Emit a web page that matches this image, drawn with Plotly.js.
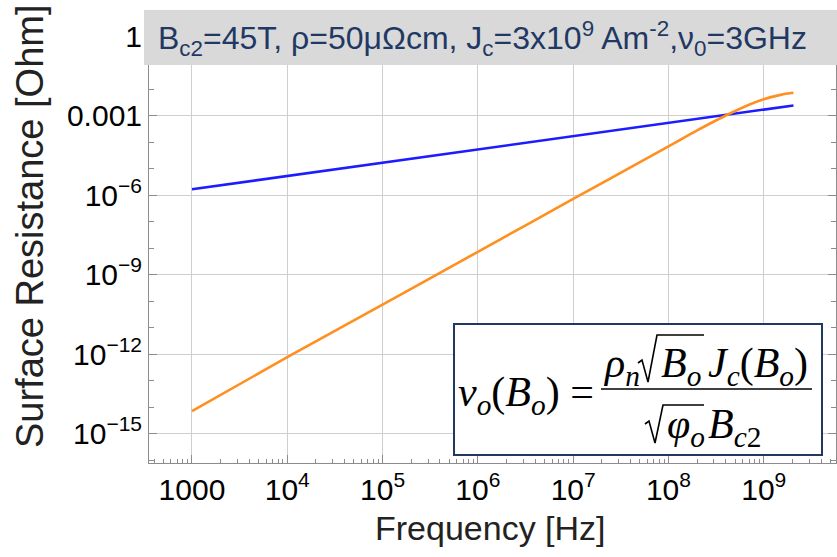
<!DOCTYPE html>
<html><head><meta charset="utf-8">
<script src="https://cdn.plot.ly/plotly-3.0.1.min.js"></script>
<style>html,body{margin:0;padding:0;background:#fff}#chart{width:837px;height:557px}</style>
</head><body><div id="chart"></div>
<script>
// ---- data ----
const freqBlue = [1e3, 1e4, 1e5, 1e6, 1e7, 1e8, 1e9, 2.05e9];
const rsBlue   = [1.65e-6, 5.2e-6, 1.65e-5, 5.2e-5, 1.65e-4, 5.3e-4, 1.65e-3, 2.4e-3];
const freqOrange = [1e3, 1e4, 1e5, 1e6, 1e7, 1e8, 2e8, 4e8, 7e8, 1e9, 1.5e9, 2.05e9];
const rsOrange   = [7.1e-15, 7.6e-13, 7.4e-11, 7.2e-9, 7.1e-7, 6.8e-5, 2.75e-4, 1.0e-3, 2.55e-3, 4.1e-3, 6.0e-3, 7.2e-3];
const xTickVals = [1e3, 1e4, 1e5, 1e6, 1e7, 1e8, 1e9];
const xTickText = ['1000', '10<sup>4</sup>', '10<sup>5</sup>', '10<sup>6</sup>', '10<sup>7</sup>', '10<sup>8</sup>', '10<sup>9</sup>'];
const yTickVals = [1, 1e-3, 1e-6, 1e-9, 1e-12, 1e-15];
const yTickText = ['1', '0.001', '10<sup>−6</sup>', '10<sup>−9</sup>', '10<sup>−12</sup>', '10<sup>−15</sup>'];
const xTitle = 'Frequency [Hz]';
const yTitle = 'Surface Resistance [Ohm]';
const headerText = 'B<sub>c2</sub>=45T, ρ=50μΩcm, J<sub>c</sub>=3x10<sup>9</sup> Am<sup>-2</sup>,ν<sub>0</sub>=3GHz';

// ---- layout helpers (pixel -> paper) ----
const L = 149, R = 836, T = 14, B = 463, W = 837, H = 557;
const px = x => (x - L) / (R - L);
const py = y => (B - y) / (B - T);
const pathOf = pts => pts.map((p, i) => (i ? 'L' : 'M') + px(p[0]).toFixed(5) + ',' + py(p[1]).toFixed(5)).join(' ');

const xMinor = [];
for (let e = 2; e <= 9; e++) for (let m = 2; m <= 9; m++) xMinor.push(m * Math.pow(10, e));
const yMinor = [];
for (let e = -16; e <= 0; e++) if (e % 3 !== 0) yMinor.push(Math.pow(10, e));

const frameCol = '#8c8c8c';
const navy = '#1f3864';
const serif = 'Liberation Serif, Times New Roman, serif';
const sans = 'Liberation Sans, Arial, sans-serif';

const traces = [
  {x: freqBlue, y: rsBlue, mode: 'lines', line: {color: '#1c1cff', width: 2.6}, hoverinfo: 'skip'},
  {x: freqOrange, y: rsOrange, mode: 'lines', line: {color: '#ff8f1f', width: 2.6, shape: 'spline'}, hoverinfo: 'skip'}
];

function ann(text, x, y, opts) {
  return Object.assign({text: text, xref: 'paper', yref: 'paper', x: px(x), y: py(y), showarrow: false,
    xanchor: 'left', yanchor: 'middle'}, opts || {});
}
const ff = {family: serif, size: 42, color: '#000'};

const annotations = [
  ann(headerText, 482, 38, {xanchor: 'center', font: {family: sans, size: 32, color: navy}}),
  ann(xTitle, 490, 528, {xanchor: 'center', font: {family: sans, size: 34, color: '#222'}}),
  ann(yTitle, 30, 226, {xanchor: 'center', textangle: -90, font: {family: sans, size: 38, color: '#222'}}),
  // formula
  ann('<i>ν</i><sub><i>o</i></sub>(<i>B</i><sub><i>o</i></sub>) =', 456, 395, {font: ff}),
  ann('<i>ρ</i><sub><i>n</i></sub>', 601, 366, {font: ff}),
  ann('<i>B</i><sub><i>o</i></sub>', 659, 366, {font: ff}),
  ann('<i>J</i><sub><i>c</i></sub>(<i>B</i><sub><i>o</i></sub>)', 706, 366, {font: ff}),
  ann('<i>φ</i><sub><i>o</i></sub>', 665, 427, {font: ff}),
  ann('<i>B</i><sub><i>c</i>2</sub>', 706, 427, {font: ff})
];

const shapes = [
  {type: 'rect', xref: 'paper', yref: 'paper', x0: px(144), x1: px(837), y0: py(65), y1: py(10),
    fillcolor: '#d9d9d9', line: {width: 0}, layer: 'above'},
  {type: 'rect', xref: 'paper', yref: 'paper', x0: px(454), x1: px(822), y0: py(455), y1: py(324),
    fillcolor: '#ffffff', line: {color: navy, width: 2}, layer: 'above'},
  {type: 'line', xref: 'paper', yref: 'paper', x0: px(601), x1: px(812), y0: py(389), y1: py(389),
    line: {color: '#000', width: 1.6}, layer: 'above'},
  {type: 'path', xref: 'paper', yref: 'paper', layer: 'above', line: {color: '#000', width: 1.6},
    path: pathOf([[638, 363], [642, 360], [648, 382], [657, 335], [704, 335]])},
  {type: 'path', xref: 'paper', yref: 'paper', layer: 'above', line: {color: '#000', width: 1.6},
    path: pathOf([[645, 424], [649, 421], [655, 443], [663, 405], [704, 405]])}
];

const axisCommon = {
  type: 'log', showline: true, linecolor: frameCol, linewidth: 1, mirror: 'allticks',
  ticks: 'inside', ticklen: 8, tickwidth: 1, tickcolor: frameCol, zeroline: false,
  showgrid: true, gridcolor: '#cfcfcf', gridwidth: 1,
  tickfont: {family: sans, size: 30, color: '#000'}, tickmode: 'array'
};

const layout = {
  width: W, height: H, margin: {l: L, r: W - R, t: T, b: H - B},
  paper_bgcolor: '#fff', plot_bgcolor: '#fff', showlegend: false,
  xaxis: Object.assign({}, axisCommon, {range: [2.549, 9.758], tickvals: xTickVals, ticktext: xTickText,
    minor: {tickvals: xMinor, ticks: 'inside', ticklen: 4, tickcolor: frameCol, showgrid: false}}),
  yaxis: Object.assign({}, axisCommon, {range: [-16.11, 0.83], tickvals: yTickVals, ticktext: yTickText,
    minor: {tickvals: yMinor, ticks: 'inside', ticklen: 5, tickcolor: frameCol, showgrid: false}}),
  annotations: annotations, shapes: shapes
};

Plotly.newPlot('chart', traces, layout, {staticPlot: true, displayModeBar: false});
</script></body></html>
